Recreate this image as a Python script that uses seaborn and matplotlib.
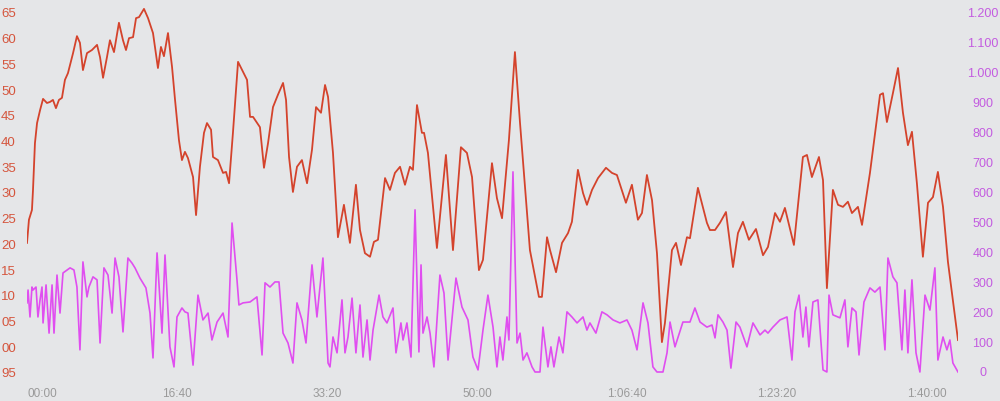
import numpy as np
import pandas as pd
import seaborn as sns
import matplotlib.pyplot as plt

hr_color = "#d4432c"
pw_color = "#e04ef0"
bg_color = "#e5e6e8"

# heart rate (bpm) against elapsed seconds
hr_time = [0, 13, 33, 40, 53, 67, 87, 107, 133, 153, 173, 193, 213, 233, 253, 273, 307, 333, 353, 373,
           400, 433, 467, 487, 507, 533, 553, 580, 613, 640, 660, 680, 707, 727, 747, 780, 807, 840, 873, 893,
           913, 940, 967, 987, 1013, 1033, 1053, 1073, 1107, 1127, 1153, 1180, 1200, 1227, 1240, 1273, 1307, 1327, 1347, 1373,
           1407, 1467, 1487, 1507, 1553, 1580, 1607, 1640, 1673, 1707, 1727, 1747, 1773, 1800, 1833, 1867, 1900, 1927, 1960, 1987,
           2007, 2040, 2073, 2113, 2153, 2193, 2220, 2253, 2287, 2313, 2340, 2387, 2420, 2453, 2487, 2520, 2553, 2573, 2600, 2633,
           2647, 2673, 2733, 2793, 2840, 2893, 2933, 2967, 3013, 3040, 3100, 3133, 3167, 3213, 3253, 3287, 3353, 3413, 3433, 3467,
           3487, 3527, 3567, 3607, 3633, 3673, 3707, 3733, 3767, 3807, 3860, 3900, 3933, 3993, 4033, 4073, 4100, 4133, 4167, 4200,
           4233, 4253, 4300, 4327, 4360, 4400, 4420, 4473, 4533, 4553, 4587, 4620, 4660, 4707, 4740, 4773, 4813, 4860, 4907, 4940,
           4987, 5020, 5053, 5113, 5173, 5200, 5233, 5280, 5307, 5333, 5373, 5407, 5440, 5473, 5500, 5540, 5567, 5620, 5687, 5707,
           5733, 5773, 5807, 5840, 5873, 5900, 5933, 5973, 6007, 6040, 6073, 6107, 6140, 6207]
hr_bpm = [120.3, 124.8, 126.7, 130.6, 139.7, 143.6, 146.1, 148.3, 147.5, 147.7, 148.1, 146.5, 148.1, 148.5, 152.0, 153.3, 157.2, 160.5, 159.2, 153.9,
          157.2, 157.8, 158.8, 156.4, 152.4, 156.4, 159.7, 157.4, 163.1, 159.7, 157.8, 160.1, 160.3, 164.0, 164.2, 165.8, 164.0, 161.1, 154.3, 158.4,
          156.6, 161.1, 154.5, 148.1, 140.3, 136.4, 138.0, 136.8, 133.1, 125.7, 135.1, 141.7, 143.6, 142.3, 137.0, 136.4, 133.9, 134.1, 131.9, 141.7,
          155.5, 152.0, 144.8, 144.8, 142.8, 134.9, 139.7, 146.7, 149.1, 151.4, 148.1, 137.0, 130.2, 135.1, 136.4, 131.9, 138.4, 146.7, 145.6, 151.0,
          148.7, 137.8, 121.4, 127.7, 120.3, 131.6, 122.8, 118.3, 117.6, 120.5, 120.9, 132.9, 130.6, 133.9, 135.1, 131.6, 135.1, 134.5, 147.1, 141.7,
          141.7, 137.8, 119.3, 137.4, 118.9, 138.9, 137.8, 133.1, 115.0, 117.0, 135.8, 129.0, 125.1, 140.3, 157.4, 143.6, 118.9, 109.8, 109.8, 121.4,
          118.9, 114.6, 120.3, 122.2, 124.4, 134.5, 130.0, 127.7, 130.6, 132.9, 134.9, 133.9, 133.5, 128.1, 131.6, 124.8, 126.1, 133.5, 128.6, 118.3,
          101.0, 104.7, 118.9, 120.3, 116.0, 121.4, 121.2, 131.0, 124.2, 122.8, 122.8, 124.2, 126.3, 115.6, 122.2, 124.4, 120.9, 123.0, 117.9, 119.5,
          126.1, 124.4, 127.1, 119.9, 137.0, 137.4, 133.1, 137.0, 132.5, 111.5, 130.6, 127.7, 127.3, 128.3, 126.1, 127.3, 123.8, 133.9, 149.1, 149.4,
          143.8, 149.4, 154.3, 145.6, 139.3, 141.9, 131.9, 117.6, 128.1, 129.2, 134.1, 127.3, 116.6, 101.4]

# power (W) against elapsed seconds
pw_time = [0, 7, 20, 33, 40, 60, 73, 87, 100, 107, 127, 147, 167, 180, 200, 220, 240, 287, 313, 333,
           353, 373, 400, 413, 440, 467, 487, 513, 540, 567, 587, 613, 640, 673, 700, 720, 753, 793, 820, 840,
           867, 900, 920, 953, 980, 1000, 1033, 1053, 1073, 1107, 1140, 1173, 1207, 1233, 1267, 1307, 1340, 1367, 1400, 1413,
           1440, 1487, 1533, 1567, 1587, 1620, 1653, 1680, 1707, 1740, 1773, 1800, 1833, 1860, 1900, 1933, 1973, 2007, 2020, 2040,
           2067, 2100, 2120, 2140, 2167, 2193, 2220, 2240, 2267, 2287, 2307, 2347, 2373, 2400, 2440, 2460, 2493, 2507, 2533, 2560,
           2587, 2613, 2627, 2640, 2667, 2687, 2713, 2753, 2780, 2807, 2860, 2900, 2940, 2973, 3007, 3040, 3073, 3107, 3133, 3153,
           3173, 3200, 3213, 3240, 3267, 3287, 3307, 3333, 3367, 3387, 3420, 3440, 3473, 3493, 3513, 3547, 3573, 3600, 3633, 3667,
           3707, 3733, 3753, 3793, 3833, 3867, 3907, 3953, 4000, 4033, 4067, 4107, 4140, 4173, 4200, 4240, 4267, 4287, 4320, 4373,
           4420, 4453, 4487, 4533, 4567, 4587, 4607, 4640, 4667, 4693, 4727, 4753, 4800, 4840, 4887, 4920, 4940, 4973, 5020, 5067,
           5100, 5120, 5147, 5173, 5193, 5213, 5240, 5273, 5307, 5333, 5347, 5373, 5420, 5453, 5473, 5500, 5527, 5547, 5580, 5620,
           5653, 5687, 5720, 5740, 5773, 5800, 5833, 5853, 5873, 5900, 5927, 5953, 5987, 6020, 6053, 6073, 6107, 6133, 6153, 6173,
           6207]
pw_watts = [231, 274, 184, 284, 274, 284, 184, 241, 284, 164, 291, 130, 291, 130, 324, 197, 331, 348, 341, 284,
            74, 368, 251, 284, 318, 308, 97, 348, 324, 197, 381, 318, 134, 381, 364, 348, 314, 281, 197, 47,
            398, 130, 391, 84, 17, 184, 214, 201, 197, 23, 257, 174, 197, 107, 167, 197, 117, 498, 308, 224,
            231, 234, 251, 57, 298, 284, 301, 301, 130, 97, 30, 231, 174, 97, 358, 184, 381, 30, 17, 117,
            64, 241, 64, 117, 247, 64, 224, 50, 174, 40, 140, 257, 184, 164, 214, 64, 164, 107, 164, 50,
            542, 67, 358, 130, 184, 130, 17, 324, 264, 40, 314, 217, 174, 50, 7, 140, 257, 150, 17, 117,
            40, 184, 107, 669, 97, 130, 40, 64, 17, 0, 0, 150, 17, 84, 17, 117, 64, 201, 184, 164,
            184, 140, 164, 130, 201, 191, 174, 164, 174, 140, 74, 231, 164, 17, 0, 0, 64, 167, 84, 167,
            167, 214, 167, 150, 157, 114, 191, 167, 140, 13, 167, 150, 84, 164, 124, 140, 130, 150, 174, 184,
            40, 201, 257, 117, 217, 84, 234, 241, 7, 0, 257, 191, 181, 241, 84, 214, 201, 57, 234, 281,
            267, 284, 74, 381, 318, 298, 74, 274, 64, 308, 64, 0, 257, 207, 348, 40, 117, 74, 107, 30,
            0]

hr_ticks = [165, 160, 155, 150, 145, 140, 135, 130, 125, 120, 115, 110, 105, 100, 95]
pw_ticks = [1200, 1100, 1000, 900, 800, 700, 600, 500, 400, 300, 200, 100, 0]
time_ticks = [0, 1000, 2000, 3000, 4000, 5000, 6000]

hr_df = pd.DataFrame({"t": hr_time, "bpm": hr_bpm})
pw_df = pd.DataFrame({"t": pw_time, "watts": pw_watts})


def fmt_time(s):
    h, rem = divmod(int(s), 3600)
    m, sec = divmod(rem, 60)
    if h:
        return f"{h}:{m:02d}:{sec:02d}"
    return f"{m:02d}:{sec:02d}"


plt.rcParams["font.family"] = ["Liberation Sans", "DejaVu Sans"]

fig = plt.figure(figsize=(10, 4.01), dpi=100, facecolor=bg_color)
ax = fig.add_axes([0.027, 0.0524, 0.931, 0.9352])
ax2 = ax.twinx()
for a in (ax, ax2):
    for sp in a.spines.values():
        sp.set_visible(False)
ax2.set_facecolor(bg_color)

sns.lineplot(data=pw_df, x="t", y="watts", ax=ax2, color=pw_color, linewidth=1.2,
             estimator=None, sort=False)
sns.lineplot(data=hr_df, x="t", y="bpm", ax=ax, color=hr_color, linewidth=1.3,
             estimator=None, sort=False)
ax.set_zorder(ax2.get_zorder() + 1)
ax.patch.set_visible(False)

ax.set_xlim(0, 6207)
ax.set_ylim(93.64, 166.56)
ax2.set_ylim(-26.7, 1226.7)

ax.set_yticks(hr_ticks)
ax.set_yticklabels([str(v)[-2:] for v in hr_ticks], color="#d5553d", fontsize=9.5)
ax.tick_params(axis="y", length=0, pad=8)

ax2.set_yticks(pw_ticks)
ax2.set_yticklabels([f"{v:,}".replace(",", ".") for v in pw_ticks], color="#c35ce0", fontsize=9)
ax2.tick_params(axis="y", length=0, pad=18)
for lab in ax2.get_yticklabels():
    lab.set_horizontalalignment("center")

ax.set_xticks(time_ticks)
ax.set_xticklabels([fmt_time(v) for v in time_ticks], color="#9a9a9a", fontsize=8.5)
ax.tick_params(axis="x", length=0, pad=6)
ax.get_xticklabels()[0].set_horizontalalignment("left")

ax.set_xlabel("")
ax.set_ylabel("")
ax2.set_ylabel("")
ax.grid(False)
ax2.grid(False)

fig.savefig("out.png", dpi=100, facecolor=bg_color)
